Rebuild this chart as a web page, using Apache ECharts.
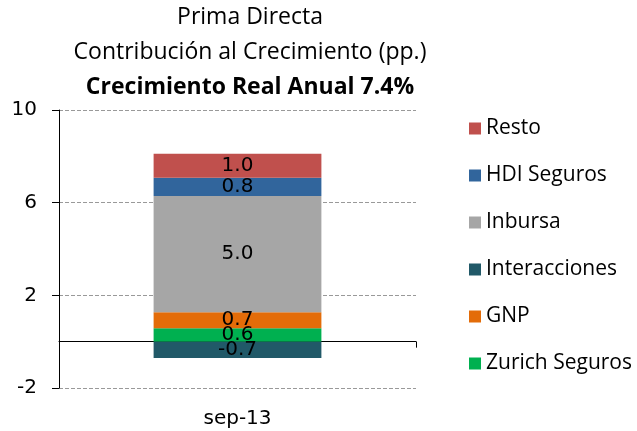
<!DOCTYPE html>
<html><head><meta charset="utf-8">
<script src="https://cdn.jsdelivr.net/npm/echarts@6/dist/echarts.min.js"></script>
<style>html,body{margin:0;padding:0;background:#fff}#c{width:637px;height:431px}</style>
</head><body><div id="c"></div>
<script>
var categories = ['sep-13'];
var seriesNames = ['Zurich Seguros', 'GNP', 'Interacciones', 'Inbursa', 'HDI Seguros', 'Resto'];
var zurich = [0.58];
var gnp = [0.69];
var interacciones = [-0.70];
var inbursa = [5.02];
var hdi = [0.79];
var resto = [1.03];
var yTicks = [-2, 2, 6, 10];
var colors = {'Zurich Seguros':'#00B050','GNP':'#E36C09','Interacciones':'#215968','Inbursa':'#A6A6A6','HDI Seguros':'#31659C','Resto':'#C0504D'};
var dataMap = {'Zurich Seguros':zurich,'GNP':gnp,'Interacciones':interacciones,'Inbursa':inbursa,'HDI Seguros':hdi,'Resto':resto};

var chart = echarts.init(document.getElementById('c'));
var series = seriesNames.map(function(n){
  return {
    name: n, type: 'bar', stack: 'a', barWidth: '47%', xAxisIndex: 0,
    itemStyle: {color: colors[n]},
    label: {show: true, position: 'inside', color: '#000', fontFamily: 'DejaVu Sans', fontSize: 20,
      formatter: function(p){ return p.value.toFixed(1); }},
    data: dataMap[n]
  };
});
chart.setOption({
  animation: false,
  title: {
    text: '{a|Prima Directa}\n{a|Contribución al Crecimiento (pp.)}\n{b|Crecimiento Real Anual 7.4%}',
    left: 250, top: 0, padding: 0, textAlign: 'center',
    textStyle: {fontWeight: 'normal', rich: {
      a: {fontFamily: 'Open Sans', fontSize: 23, fontWeight: 'normal', color: '#000', lineHeight: 35, align: 'center'},
      b: {fontFamily: 'Open Sans', fontSize: 23, fontWeight: 'bold', color: '#000', lineHeight: 35, align: 'center'}
    }}
  },
  legend: {
    orient: 'vertical', left: 469, top: 118, padding: 0,
    data: ['Resto', 'HDI Seguros', 'Inbursa', 'Interacciones', 'GNP', 'Zurich Seguros'],
    itemWidth: 12, itemHeight: 12, itemGap: 26, icon: 'rect',
    textStyle: {fontFamily: 'Open Sans', fontSize: 21, color: '#000', lineHeight: 20}
  },
  grid: {left: 59, right: 221, top: 110, bottom: 43},
  xAxis: [{
    type: 'category', data: categories,
    axisLine: {onZero: true, lineStyle: {color: '#000', width: 1}},
    axisTick: {show: true, alignWithLabel: false, length: 6, lineStyle: {color: '#000'}},
    axisLabel: {show: false}
  }, {
    type: 'category', data: categories, position: 'bottom',
    axisLine: {show: false, onZero: false}, axisTick: {show: false},
    axisLabel: {show: true, margin: 21, fontFamily: 'DejaVu Sans', fontSize: 20, color: '#000'}
  }],
  yAxis: {
    type: 'value', min: -2, max: 10, interval: 4,
    axisLine: {show: true, lineStyle: {color: '#000'}},
    axisTick: {show: true, length: 7, lineStyle: {color: '#000'}},
    axisLabel: {margin: 22, fontFamily: 'DejaVu Sans', fontSize: 20, color: '#000',
      formatter: function(v){ return yTicks.indexOf(v) >= 0 ? String(v) : ''; }},
    splitLine: {show: true, lineStyle: {color: '#999', type: 'dashed', width: 1}}
  },
  series: series
});
</script></body></html>
